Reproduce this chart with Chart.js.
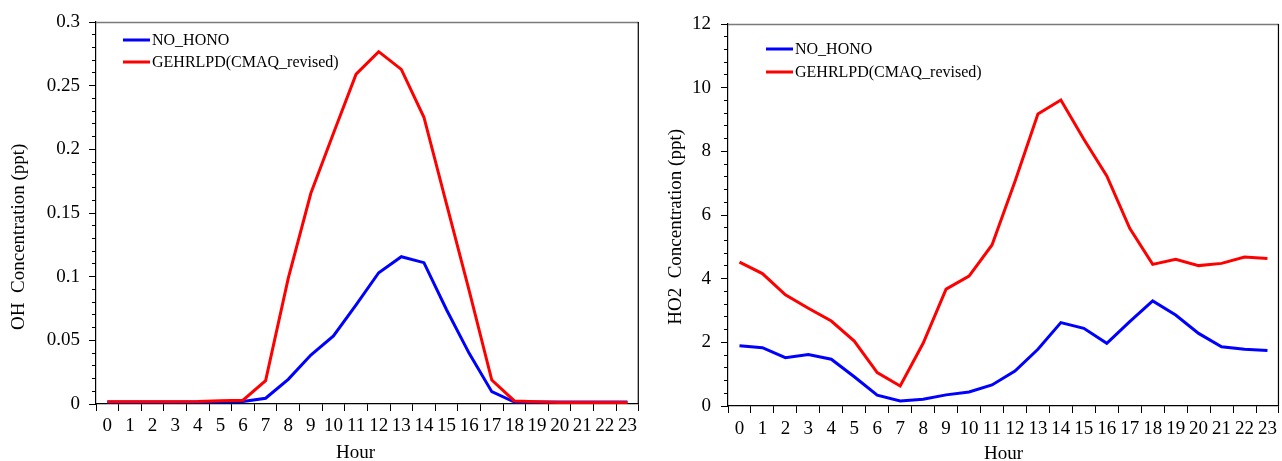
<!DOCTYPE html>
<html>
<head>
<meta charset="utf-8">
<script src="https://cdn.jsdelivr.net/npm/chart.js@4.4.1/dist/chart.umd.min.js"></script>
<style>
  html, body { margin: 0; padding: 0; background: #fff; }
  body { width: 1282px; height: 461px; position: relative; overflow: hidden; }
  .box { position: absolute; top: 0; width: 641px; height: 461px; }
  #b1 { left: 0; }
  #b2 { left: 641px; }
</style>
</head>
<body>
<div class="box" id="b1"><canvas id="c1" width="641" height="461"></canvas></div>
<div class="box" id="b2"><canvas id="c2" width="641" height="461"></canvas></div>
<script>
// ---------- data ----------
const hours = ['0','1','2','3','4','5','6','7','8','9','10','11','12','13','14','15','16','17','18','19','20','21','22','23'];
const seriesNames = ['NO_HONO', 'GEHRLPD(CMAQ_revised)'];

const ohNoHono  = [0.0015,0.0015,0.0015,0.0015,0.0015,0.0018,0.002,0.0045,0.0194,0.0385,0.0534,0.0778,0.1031,0.1157,0.111,0.074,0.0398,0.0097,0.0015,0.0015,0.0015,0.0015,0.0015,0.0015];
const ohGehrlpd = [0.0018,0.0018,0.0018,0.0018,0.002,0.0026,0.003,0.0183,0.0987,0.1655,0.2126,0.259,0.2767,0.2628,0.2252,0.157,0.089,0.0188,0.0024,0.0018,0.0012,0.0012,0.0012,0.0012];

const ho2NoHono  = [1.89,1.83,1.52,1.62,1.47,0.92,0.34,0.16,0.21,0.35,0.44,0.66,1.10,1.78,2.62,2.44,1.97,2.65,3.30,2.86,2.28,1.86,1.78,1.74];
const ho2Gehrlpd = [4.52,4.16,3.49,3.07,2.67,2.04,1.05,0.63,1.97,3.67,4.08,5.06,7.05,9.17,9.61,8.38,7.23,5.58,4.45,4.61,4.41,4.48,4.68,4.63];

const ohTickValues  = [0, 0.05, 0.1, 0.15, 0.2, 0.25, 0.3];
const ohTickLabels  = ['0', '0.05', '0.1', '0.15', '0.2', '0.25', '0.3'];
const ho2TickValues = [0, 2, 4, 6, 8, 10, 12];
const ho2TickLabels = ['0', '2', '4', '6', '8', '10', '12'];

const xTitle = 'Hour';
const ohTitle = 'OH  Concentration (ppt)';
const ho2Title = 'HO2  Concentration (ppt)';
// ---------- end data ----------

const FONT = 'Liberation Serif, Times New Roman, serif';
const NB = '\u00A0';

const lineLegend = {
  id: 'lineLegend',
  afterDraw(chart, args, o) {
    const ctx = chart.ctx;
    const a = chart.chartArea;
    ctx.save();
    ctx.font = o.fontSize + 'px ' + FONT;
    ctx.textBaseline = 'middle';
    ctx.textAlign = 'left';
    chart.data.datasets.forEach((ds, i) => {
      const y = a.top + o.y + i * o.gap;
      const x = a.left + o.x;
      ctx.strokeStyle = ds.borderColor;
      ctx.lineWidth = 3;
      ctx.beginPath();
      ctx.moveTo(x, y);
      ctx.lineTo(x + o.len, y);
      ctx.stroke();
      ctx.fillStyle = '#000';
      ctx.fillText(ds.label, x + o.len + o.textGap, y + 1);
    });
    ctx.restore();
  }
};

const frame = {
  id: 'frame',
  afterDraw(chart) {
    const ctx = chart.ctx;
    const a = chart.chartArea;
    ctx.save();
    ctx.lineWidth = 1.5;
    ctx.strokeStyle = '#7a7a7a';
    ctx.beginPath();
    ctx.moveTo(a.left, a.top + 0.5);
    ctx.lineTo(a.right, a.top + 0.5);
    ctx.stroke();
    ctx.lineWidth = 1.2;
    ctx.strokeStyle = '#000';
    ctx.beginPath();
    ctx.moveTo(a.right - 0.5, a.top);
    ctx.lineTo(a.right - 0.5, a.bottom);
    ctx.stroke();
    ctx.restore();
  }
};

function makeChart(id, cfg) {
  const ctx = document.getElementById(id);
  return new Chart(ctx, {
    type: 'line',
    data: {
      labels: hours,
      datasets: [
        { label: seriesNames[0], data: cfg.blue, borderColor: '#0000ff', order: 1 },
        { label: seriesNames[1], data: cfg.red, borderColor: '#ff0000', order: 0 }
      ]
    },
    plugins: [lineLegend, frame],
    options: {
      responsive: false,
      animation: false,
      devicePixelRatio: 1,
      layout: { padding: { top: cfg.top, right: 1, left: 0, bottom: 0 } },
      elements: {
        line: { borderWidth: 3, tension: 0, fill: false },
        point: { radius: 0, hoverRadius: 0 }
      },
      plugins: {
        legend: { display: false },
        tooltip: { enabled: false },
        lineLegend: cfg.legend
      },
      scales: {
        x: {
          type: 'category',
          offset: true,
          afterFit: s => { s.height = cfg.xHeight; },
          grid: { offset: true, drawOnChartArea: false, drawTicks: true, tickLength: 7, color: '#000', tickWidth: 1 },
          border: { color: '#000', width: 1.2 },
          ticks: { color: '#000', font: { family: FONT, size: 19 }, padding: cfg.xPad, maxRotation: 0, autoSkip: false },
          title: { display: true, text: cfg.xTitle, color: '#000', font: { family: FONT, size: 19 }, padding: { top: 0, bottom: cfg.xTitlePad } }
        },
        y: {
          weight: 1,
          min: cfg.min, max: cfg.max,
          afterFit: s => { s.width = cfg.yWidth; },
          afterBuildTicks: s => { s.ticks = cfg.tickValues.map(v => ({ value: v })); },
          grid: { drawOnChartArea: false, drawTicks: true, tickLength: 7, color: '#000' },
          border: { color: '#000', width: 1.2 },
          ticks: { color: '#000', font: { family: FONT, size: 19 }, padding: cfg.yPad,
                   callback: (v, i) => cfg.tickLabels[i] },
          title: { display: true, text: cfg.yTitle, color: '#000', font: { family: FONT, size: 19 }, padding: { top: cfg.yTitlePad, bottom: 0 } }
        },
        yMinor: {
          position: 'left',
          weight: 0,
          min: cfg.min, max: cfg.max,
          afterFit: s => { s.width = 0; },
          grid: { drawOnChartArea: false, drawTicks: true, tickLength: 4, color: '#000' },
          border: { display: false },
          ticks: { display: false, stepSize: cfg.minorStep }
        }
      }
    }
  });
}

makeChart('c1', {
  blue: ohNoHono, red: ohGehrlpd,
  min: 0, max: 0.3, minorStep: 0.01,
  tickValues: ohTickValues, tickLabels: ohTickLabels,
  top: 22, xHeight: 57, yWidth: 96,
  xPad: 4, yPad: 9, xTitlePad: -3, yTitlePad: 8,
  xTitle: xTitle + NB.repeat(5),
  yTitle: ohTitle + NB.repeat(10),
  legend: { x: 27, y: 18, gap: 22, len: 27, textGap: 2, fontSize: 16 }
});

makeChart('c2', {
  blue: ho2NoHono, red: ho2Gehrlpd,
  min: 0, max: 12, minorStep: 0.4,
  tickValues: ho2TickValues, tickLabels: ho2TickLabels,
  top: 24, xHeight: 55, yWidth: 87,
  xPad: 5, yPad: 10, xTitlePad: -4, yTitlePad: 24,
  xTitle: xTitle,
  yTitle: ho2Title + NB.repeat(5),
  legend: { x: 38, y: 25, gap: 23, len: 27, textGap: 2, fontSize: 16 }
});
</script>
</body>
</html>
